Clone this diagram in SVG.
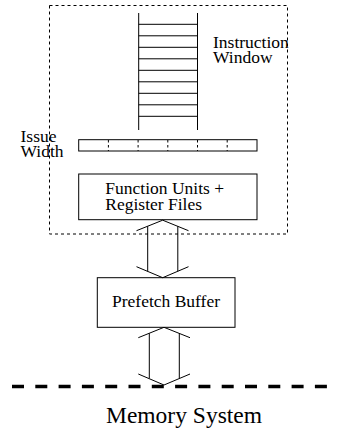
<svg xmlns="http://www.w3.org/2000/svg" width="338" height="428" viewBox="0 0 338 428">
  <defs>
    <style>
      .ln { fill: none; stroke: #000; stroke-width: 1; }
      .box { fill: #fff; stroke: #000; stroke-width: 1; }
      .dash { fill: none; stroke: #000; stroke-width: 1; stroke-dasharray: 3 3; }
      .tick { fill: none; stroke: #000; stroke-width: 1; stroke-dasharray: 2.5 2.5; }
      .bus { fill: none; stroke: #000; stroke-width: 3.5; stroke-dasharray: 12 11.3; }
      text { font-family: "Liberation Serif", "Times New Roman", serif; fill: #000; }
      .lbl { font-size: 17.5px; }
      .big { font-size: 23.5px; }
    </style>
  </defs>

  <!-- processor boundary -->
  <rect id="core" class="dash" x="49.5" y="5.5" width="238" height="228.5"/>

  <!-- instruction window: a ladder of slots -->
  <g id="window">
    <path class="ln" d="M138.7 13V130M197.5 13V130"/>
    <path class="ln" d="M138.7 24.3H197.5M138.7 35.8H197.5M138.7 47.3H197.5M138.7 58.8H197.5M138.7 70.3H197.5M138.7 81.8H197.5M138.7 93.3H197.5M138.7 104.8H197.5M138.7 116.3H197.5"/>
    <text class="lbl" x="213" y="47.7">Instruction</text>
    <text class="lbl" x="213" y="63.3">Window</text>
  </g>

  <!-- issue width bar -->
  <g id="issue">
    <rect class="box" x="78.7" y="139.7" width="178.3" height="11.3"/>
    <path class="tick" d="M108.4 140V151M138.1 140V151M167.8 140V151M197.5 140V151M227.2 140V151"/>
    <text class="lbl" x="20.5" y="142">Issue</text>
    <text class="lbl" x="20.5" y="157.3">Width</text>
  </g>

  <!-- execution core -->
  <g id="units">
    <rect class="box" x="78.7" y="174" width="178.3" height="45.7"/>
    <text class="lbl" x="105.3" y="194">Function Units +</text>
    <text class="lbl" x="105.3" y="210">Register Files</text>
  </g>

  <!-- prefetch buffer -->
  <g id="prefetch">
    <rect class="box" x="97.3" y="277.7" width="137.7" height="49.6"/>
    <text class="lbl" x="112" y="306.7">Prefetch Buffer</text>
  </g>

  <!-- memory bus -->
  <g id="memory">
    <line class="bus" x1="12" y1="386.5" x2="338" y2="386.5"/>
    <text class="big" x="106" y="422.7">Memory System</text>
  </g>

  <!-- two-way data paths -->
  <g id="connectors">
    <path class="ln" d="M136.5 230.7L162.7 220.2L188.5 230.7M147.7 226.3V271.3M177.8 226.3V271.3M136.5 266.7L162.7 277.7L188.5 266.7"/>
    <path class="ln" d="M138.3 337.7L164 327.3L190 337.7M149.3 333.3V378.3M179.3 333.3V378.3M138.3 374L164 385L190 374"/>
  </g>
</svg>
